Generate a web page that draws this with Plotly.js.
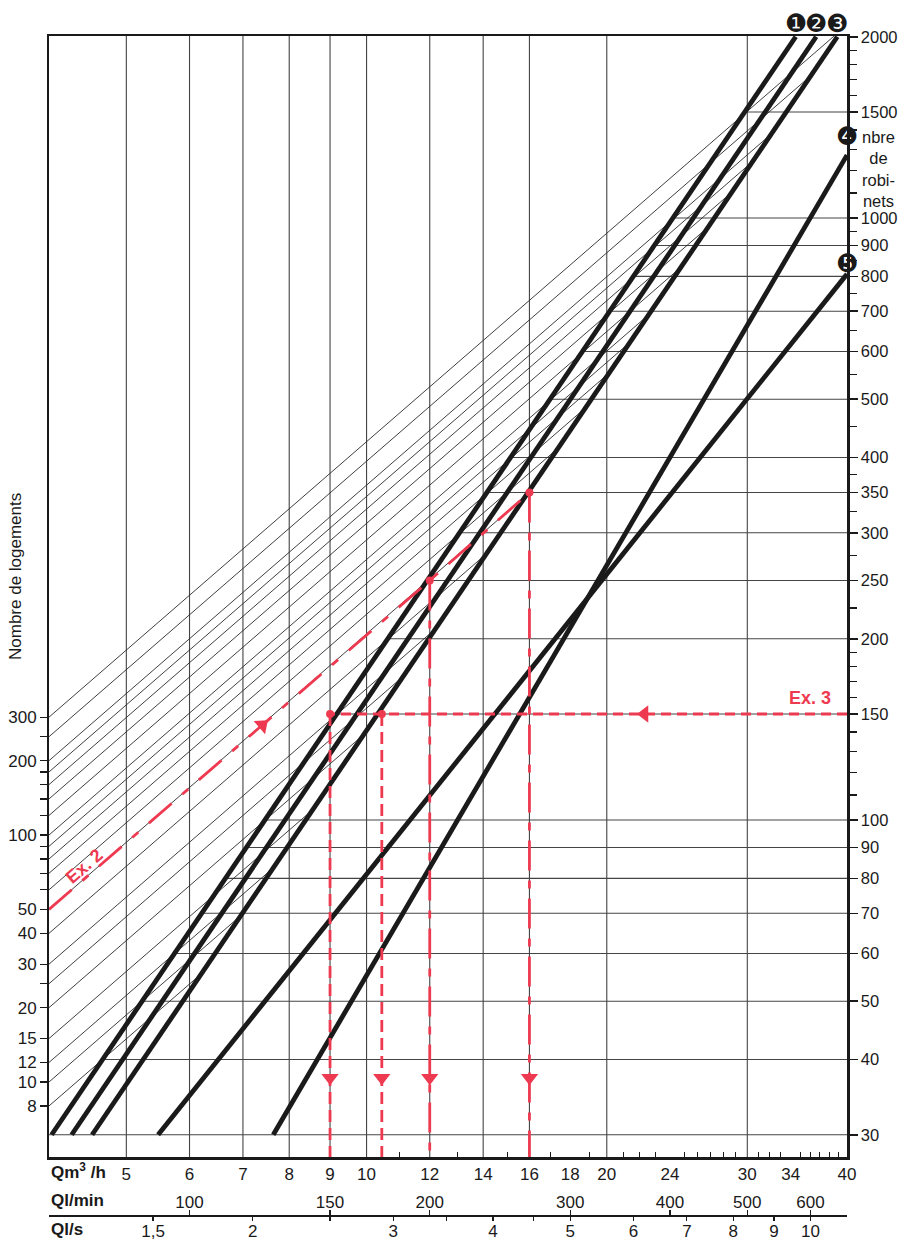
<!DOCTYPE html>
<html><head><meta charset="utf-8">
<script src="https://cdn.plot.ly/plotly-3.0.1.min.js"></script>
<style>html,body{margin:0;padding:0;background:#fff}</style>
</head><body><div id="chart" style="width:898px;height:1240px"></div>
<script>
// ---------------- data ----------------
const qTickValues = [5,6,7,8,9,10,12,14,16,18,20,24,30,34,40];
const qMinorTicks = [11,13,15,17,19,21,22,23,25,26,27,28,29,31,32,33,35,36,37,38,39];
const qGridValues = [5,6,7,8,9,10,12,14,16,20,30];
const lminTickValues = [100,150,200,300,400,500,600];
const lsTickValues = [1.5,2,3,4,5,6,7,8,9,10];
const lsTickText = ['1,5','2','3','4','5','6','7','8','9','10'];
const lsMinorTicks = [2.5,3.5,4.5];
const robinetsTicks = [30,40,50,60,70,80,90,100,150,200,250,300,350,400,500,600,700,800,900,1000,1500,2000];
const robinetsMinor = [110,120,130,140,160,170,180,190,225,275,325,375,450,550,650,750,850,950,1100,1200,1300,1400,1600,1700,1800,1900];
const robinetsGrid = [30,40,50,60,70,80,90,100,150,200,250,300,350,400,500,600,700,800,900,1000,1500];
const logementsValues = [8,10,12,15,20,25,30,40,50,60,70,80,90,100,120,140,160,180,200,250,300];
const logementsLabeled = [8,10,12,15,20,30,40,50,100,200,300];
const courbeNoms = ['\u2776','\u2777','\u2778','\u2779','\u277A'];
const courbeQdebut = [4.03,4.27,4.53,7.64,5.48];
const courbeRdebut = [30,30,30,30,30];
const courbeQfin = [34.5,36.6,38.9,40,40];
const courbeRfin = [2000,2000,2000,1272,807];
const penteLogements = 1.15;
const ex2Logements = 50;
const ex2Q = [12,16];
const ex2R = [250,350];
const ex2ArrowQ = 7.4;
const ex3Robinets = 150;
const ex3Q = [9,10.45];
const ex3ArrowQ = 22.3;
const arrowR = 37.3;

// ---------------- scales ----------------
const L = Math.log10;
const xRange = [L(4), L(40)];
const rRange = [1.4402, 3.3023];
const lRange = [0.6964, 5.2348];
const yDom0 = 73/1194;
const rowPos = 15/1194;
const red = '#ee3a50';
const ink = '#1a1a1a';
const font = 'Liberation Sans, Arial, sans-serif';

function logementsToLogR(v){ return rRange[0] + (L(v)-lRange[0])*(rRange[1]-rRange[0])/(lRange[1]-lRange[0]); }
function courbe(i){ const a=L(courbeRdebut[i]), b=L(courbeQdebut[i]); const m=(L(courbeRfin[i])-a)/(L(courbeQfin[i])-b); return {a,b,m}; }
function qOnCourbe(i, r){ const c=courbe(i); return Math.pow(10, c.b + (L(r)-c.a)/c.m); }

const traces = [];
// vertical grid
{ const x=[],y=[]; qGridValues.forEach(g=>{x.push(g,g,null); y.push(Math.pow(10,rRange[0]),Math.pow(10,rRange[1]),null);});
  traces.push({x,y,mode:'lines',line:{color:'#444',width:1.1},hoverinfo:'skip'}); }
// horizontal grid (from curve 1 to right edge)
{ const x=[],y=[]; robinetsGrid.forEach(r=>{ const q0 = r===30 ? 4 : qOnCourbe(0,r); x.push(q0,40,null); y.push(r,r,null);});
  traces.push({x,y,mode:'lines',line:{color:'#444',width:1.1},hoverinfo:'skip'}); }
// thin logements lines, from left axis up to curve 3
{ const x=[],y=[]; const c=courbe(2); const u0=xRange[0];
  logementsValues.forEach(v=>{ const v0=logementsToLogR(v); const s=penteLogements;
    let u=(c.a - c.m*c.b - v0 + s*u0)/(s - c.m); let w=v0+s*(u-u0);
    if (w>rRange[1]) { w=rRange[1]; u=u0+(w-v0)/s; }
    x.push(4, Math.pow(10,u), null); y.push(Math.pow(10,v0), Math.pow(10,w), null); });
  traces.push({x,y,mode:'lines',line:{color:'#2a2a2a',width:0.9},hoverinfo:'skip'}); }
// thick curves
courbeNoms.forEach((n,i)=>{ traces.push({x:[courbeQdebut[i],courbeQfin[i]], y:[courbeRdebut[i],courbeRfin[i]], mode:'lines', line:{color:ink,width:4.8}, hoverinfo:'skip'}); });
// Ex.3
traces.push({x:[40, ex3Q[0]], y:[ex3Robinets, ex3Robinets], mode:'lines', line:{color:red,width:2.8,dash:'10px,6px'}, hoverinfo:'skip'});
ex3Q.forEach(q=>traces.push({x:[q,q], y:[ex3Robinets, Math.pow(10,rRange[0])], mode:'lines', line:{color:red,width:2.8,dash:'12px,6px'}, hoverinfo:'skip'}));
// Ex.2
const ex2StartR = Math.pow(10, logementsToLogR(ex2Logements));
traces.push({x:[4].concat(ex2Q), y:[ex2StartR].concat(ex2R), mode:'lines', line:{color:red,width:2.8,dash:'30px,14px,8px,14px'}, hoverinfo:'skip'});
ex2Q.forEach((q,i)=>traces.push({x:[q,q], y:[ex2R[i], Math.pow(10,rRange[0])], mode:'lines', line:{color:red,width:2.8,dash:'30px,10px,8px,10px'}, hoverinfo:'skip'}));
// dots
traces.push({x:ex3Q.concat(ex2Q), y:[ex3Robinets,ex3Robinets].concat(ex2R), mode:'markers', marker:{color:red,size:8}, hoverinfo:'skip'});
// arrows
const allQ = ex3Q.concat(ex2Q);
traces.push({x:allQ, y:allQ.map(()=>arrowR), mode:'markers', marker:{symbol:'triangle-down',color:red,size:15}, hoverinfo:'skip'});
traces.push({x:[ex3ArrowQ], y:[ex3Robinets], mode:'markers', marker:{symbol:'triangle-left',color:red,size:15}, hoverinfo:'skip'});
const ex2ArrowR = Math.pow(10, L(ex2StartR) + (L(ex2R[0])-L(ex2StartR))*(L(ex2ArrowQ)-L(4))/(L(ex2Q[0])-L(4)));
traces.push({x:[ex2ArrowQ], y:[ex2ArrowR], mode:'markers', marker:{symbol:'triangle-up',angle:49,color:red,size:15}, hoverinfo:'skip'});
// axis anchors
['x2','x3','x4','x5'].forEach(a=>traces.push({x:[],y:[],xaxis:a,yaxis:'y',hoverinfo:'skip'}));
traces.push({x:[],y:[],xaxis:'x',yaxis:'y2',hoverinfo:'skip'});

const annotations = [];
courbeNoms.forEach((n,i)=>{ annotations.push({x:L(courbeQfin[i]), y:L(courbeRfin[i]), xref:'x', yref:'y', xanchor:'center', yanchor:'middle', text:n, showarrow:false,
  font:{family:'DejaVu Sans',size:25,color:ink}, yshift: i<3 ? 13 : (i===3 ? 19 : 11)}); });
annotations.push({xref:'paper',yref:'paper',x:1.0401,y:0.8886,xanchor:'center',yanchor:'middle',text:'nbre<br>de<br>robi-<br>nets',showarrow:false,align:'center',font:{size:16.5}});
annotations.push({xref:'paper',yref:'paper',x:-0.0426,y:0.5469,xanchor:'center',yanchor:'middle',text:'Nombre de logements',textangle:-90,showarrow:false,font:{size:17}});
annotations.push({xref:'paper',yref:'paper',x:0,xanchor:'left',y:0.0494,yanchor:'middle',text:'<b>Qm<sup>3</sup> /h</b>',showarrow:false,font:{size:17}});
annotations.push({xref:'paper',yref:'paper',x:0,xanchor:'left',y:0.0243,yanchor:'middle',text:'<b>Ql/min</b>',showarrow:false,font:{size:17}});
annotations.push({xref:'paper',yref:'paper',x:0,xanchor:'left',y:0.0008,yanchor:'middle',text:'<b>Ql/s</b>',showarrow:false,font:{size:17}});
annotations.push({x:L(40), y:L(ex3Robinets), xref:'x', yref:'y', xanchor:'right', yanchor:'bottom', xshift:-14, yshift:4, text:'<b>Ex. 3</b>', showarrow:false, font:{size:18,color:red}});
const ex2LabelQ = 4.43;
const ex2LabelR = L(ex2StartR) + (L(ex2R[0])-L(ex2StartR))*(L(ex2LabelQ)-L(4))/(L(ex2Q[0])-L(4));
annotations.push({x:L(ex2LabelQ), y:ex2LabelR, xref:'x', yref:'y', xanchor:'center', yanchor:'middle', yshift:13, textangle:-41, text:'<b>Ex. 2</b>', showarrow:false, font:{size:18,color:red}});

const rowAxis = (side, vals, text, showLabels, showLine) => ({type:'log', range:xRange, overlaying:'x', anchor:'free', position:rowPos, side,
  tickmode:'array', tickvals:vals, ticktext:text, ticks: showLabels ? '' : 'outside', ticklen:5, tickwidth:1.2, tickcolor:ink,
  showticklabels:showLabels, showline:showLine, linewidth:1.5, linecolor:ink, showgrid:false, zeroline:false, tickfont:{size:17}});

const layout = {
  width:898, height:1240, margin:{l:49,r:51,t:36,b:10}, showlegend:false,
  paper_bgcolor:'#fff', plot_bgcolor:'#fff',
  font:{family:font,size:17,color:ink},
  xaxis:{type:'log', range:xRange, domain:[0,1], anchor:'y', tickmode:'array', tickvals:qTickValues, ticktext:qTickValues.map(String),
    ticks:'', showgrid:false, zeroline:false, showline:true, mirror:true, linewidth:2.5, linecolor:ink,
    minor:{tickmode:'array', tickvals:qMinorTicks, ticks:'inside', ticklen:5, tickwidth:1, tickcolor:ink, showgrid:false}, tickfont:{size:17}},
  yaxis:{type:'log', range:rRange, domain:[yDom0,1], side:'right', anchor:'x', tickmode:'array', tickvals:robinetsTicks, ticktext:robinetsTicks.map(String),
    ticks:'outside', ticklen:8, tickwidth:1.5, tickcolor:ink, showline:true, mirror:true, linewidth:2.5, linecolor:ink, showgrid:false, zeroline:false,
    minor:{tickmode:'array', tickvals:robinetsMinor, ticks:'outside', ticklen:7, tickwidth:1.2, tickcolor:ink, showgrid:false}, tickfont:{size:16.5}},
  yaxis2:{type:'log', range:lRange, overlaying:'y', side:'left', anchor:'x', tickmode:'array', tickvals:logementsValues,
    ticktext:logementsValues.map(v=>logementsLabeled.includes(v)?String(v):''), ticks:'outside', ticklen:8, tickwidth:1.2, tickcolor:ink,
    showline:false, showgrid:false, zeroline:false, tickfont:{size:17}},
  xaxis2: rowAxis('top', lminTickValues.map(v=>v*60/1000), lminTickValues.map(String), true, true),
  xaxis3: rowAxis('bottom', lsTickValues.map(v=>v*3.6), lsTickText, true, true),
  xaxis4: rowAxis('top', lminTickValues.map(v=>v*60/1000), lminTickValues.map(()=>''), false, false),
  xaxis5: rowAxis('bottom', lsTickValues.concat(lsMinorTicks).map(v=>v*3.6), lsTickValues.concat(lsMinorTicks).map(()=>''), false, false),
  annotations
};
Plotly.newPlot('chart', traces, layout, {staticPlot:true});
</script></body></html>
